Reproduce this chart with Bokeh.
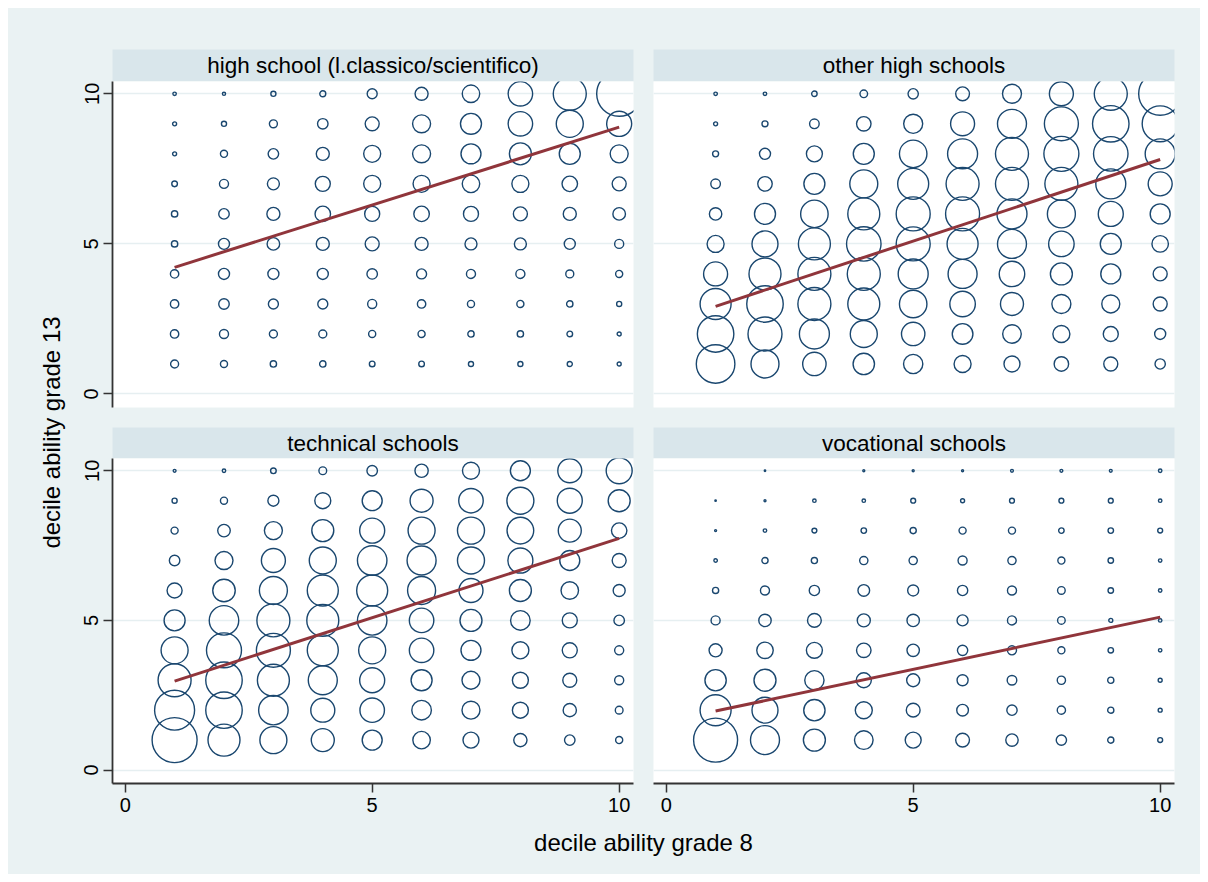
import numpy as np
from bokeh.plotting import figure
from bokeh.layouts import row, column
from bokeh.models import Range1d, FixedTicker, ColumnDataSource
from bokeh.embed import file_html
from bokeh.resources import INLINE
from bokeh.core.properties import value

# ---------------- data ----------------
panel_titles = ["high school (l.classico/scientifico)", "other high schools",
                "technical schools", "vocational schools"]
ability_grade8 = [1, 2, 3, 4, 5, 6, 7, 8, 9, 10]    # columns
ability_grade13 = [1, 2, 3, 4, 5, 6, 7, 8, 9, 10]   # rows
axis_ticks = [0, 5, 10]
x_title = "decile ability grade 8"
y_title = "decile ability grade 13"

# frequency weights (rows: grade-13 decile 1..10, columns: grade-8 decile 1..10)
w_classico = [
    [3.2, 2.5, 2.0, 2.0, 1.6, 1.6, 1.3, 1.3, 1.3, 0.8],
    [3.5, 4.1, 3.2, 3.2, 2.5, 2.5, 2.0, 2.0, 1.6, 0.8],
    [3.5, 5.5, 5.0, 5.0, 4.1, 3.5, 2.5, 2.5, 2.0, 1.3],
    [3.5, 6.1, 6.1, 6.1, 5.5, 5.0, 4.1, 4.1, 3.2, 2.5],
    [2.0, 6.1, 7.9, 8.5, 9.8, 8.5, 7.2, 7.2, 6.1, 4.1],
    [2.0, 5.5, 8.5, 12.0, 11.3, 12.0, 11.3, 9.8, 8.5, 7.9],
    [1.6, 4.1, 7.2, 11.3, 14.5, 14.5, 15.3, 14.5, 12.0, 9.8],
    [0.8, 2.5, 5.5, 8.5, 14.5, 16.2, 20.0, 24.2, 22.1, 16.2],
    [0.8, 1.3, 3.2, 5.5, 9.8, 16.2, 22.1, 30.0, 36.5, 31.3],
    [0.6, 0.5, 1.3, 1.8, 5.0, 8.5, 15.3, 30.0, 54.5, 101.3],
]
w_other_hs = [
    [74.5, 39.2, 27.4, 22.9, 18.6, 14.5, 12.8, 10.5, 9.8, 5.3],
    [66.6, 57.8, 45.0, 36.5, 27.4, 21.4, 17.3, 14.5, 11.3, 6.1],
    [48.1, 66.6, 54.5, 51.2, 37.8, 32.5, 26.5, 18.1, 16.2, 9.8],
    [28.8, 51.2, 54.5, 54.5, 45.0, 42.1, 32.5, 24.2, 20.0, 9.8],
    [14.5, 33.8, 51.2, 59.5, 57.8, 48.1, 42.1, 32.5, 22.1, 13.6],
    [7.7, 22.1, 37.8, 51.2, 57.8, 57.8, 45.0, 39.2, 31.3, 20.0],
    [4.6, 10.5, 22.1, 39.2, 48.1, 54.5, 54.5, 54.5, 45.0, 28.8],
    [1.8, 6.1, 12.8, 22.1, 37.8, 45.0, 54.5, 61.3, 59.5, 45.0],
    [0.8, 1.8, 4.6, 10.5, 18.1, 28.8, 42.1, 57.8, 66.6, 64.8],
    [0.6, 0.6, 1.5, 2.9, 5.3, 9.5, 18.1, 28.8, 54.5, 92.5],
]
w_technical = [
    [101.3, 51.2, 36.5, 26.5, 20.0, 15.3, 12.8, 8.8, 5.5, 2.5],
    [80.0, 66.6, 43.5, 28.8, 30.0, 19.2, 16.2, 12.8, 8.8, 3.0],
    [54.5, 66.6, 51.2, 42.1, 31.3, 22.1, 16.2, 12.8, 9.8, 4.1],
    [36.5, 61.3, 57.8, 48.1, 36.5, 30.0, 20.0, 14.5, 11.3, 4.1],
    [22.1, 43.5, 54.5, 51.2, 43.5, 30.0, 24.2, 19.2, 11.3, 5.5],
    [11.3, 25.3, 39.2, 48.1, 48.1, 39.2, 28.8, 24.2, 15.3, 7.2],
    [5.5, 16.2, 28.8, 36.5, 43.5, 42.1, 36.5, 31.3, 20.0, 9.8],
    [2.5, 7.9, 16.2, 24.2, 31.3, 36.5, 36.5, 35.6, 26.5, 11.9],
    [1.3, 2.5, 6.1, 12.8, 20.0, 26.5, 30.0, 36.5, 31.3, 24.2],
    [0.4, 0.6, 1.6, 3.0, 5.5, 8.8, 14.5, 20.0, 28.8, 33.8],
]
w_vocational = [
    [96.8, 42.1, 24.2, 17.3, 12.8, 9.5, 7.7, 5.3, 1.9, 1.2],
    [48.1, 33.8, 22.7, 14.5, 9.5, 6.8, 5.3, 3.4, 1.9, 0.8],
    [22.7, 24.2, 18.6, 11.3, 8.5, 6.1, 4.6, 3.4, 1.9, 0.8],
    [8.5, 13.6, 12.8, 10.5, 7.7, 5.3, 4.1, 2.5, 1.5, 0.6],
    [4.1, 7.7, 9.5, 8.5, 7.7, 6.1, 4.1, 2.9, 0.8, 0.6],
    [1.9, 4.1, 5.3, 6.8, 6.1, 5.3, 4.1, 2.9, 1.5, 0.6],
    [0.6, 1.9, 1.9, 3.4, 3.4, 4.1, 3.4, 2.5, 1.5, 0.6],
    [0.2, 0.6, 1.2, 1.5, 1.9, 2.5, 2.5, 1.5, 1.5, 1.2],
    [0.1, 0.2, 0.6, 0.6, 1.2, 0.8, 1.2, 1.2, 1.2, 0.6],
    [0.0, 0.1, 0.0, 0.2, 0.2, 0.2, 0.4, 0.4, 0.4, 0.6],
]
# fitted line values at grade-8 decile 1 and 10
fit_at_1 = [4.22, 2.92, 2.97, 1.97]
fit_at_10 = [8.89, 7.81, 7.74, 5.11]

# ---------------- style ----------------
BG = "#EAF2F3"
STRIP = "#D9E6EB"
GRID = "#E6EFF1"
NAVY = "#1A476F"
MAROON = "#90353B"
AXIS = "#333333"
FONT = "Liberation Sans"
SIZE_SCALE = 4.47   # marker diameter = SIZE_SCALE * sqrt(weight)

FRAME_W = 521
X_RANGE = (-0.257, 10.29)
Y_RANGE = (-0.45, 10.41)


def base_fig(frame_w, frame_h, bl, br, bt, bb, xr, yr, xloc=None, yloc=None, bg="white"):
    f = figure(frame_width=frame_w, frame_height=frame_h,
               x_range=Range1d(*xr), y_range=Range1d(*yr),
               x_axis_location=xloc, y_axis_location=yloc,
               toolbar_location=None, output_backend="svg",
               min_border_left=bl, min_border_right=br,
               min_border_top=bt, min_border_bottom=bb,
               background_fill_color=bg, border_fill_color=BG,
               outline_line_color=None)
    for g in f.grid:
        g.visible = False
    return f


def style_axis(ax, vertical=False):
    ax.ticker = FixedTicker(ticks=axis_ticks)
    ax.minor_tick_line_color = None
    ax.major_tick_in = 0
    ax.major_tick_out = 9
    ax.major_tick_line_color = AXIS
    ax.major_tick_line_width = 1.5
    ax.axis_line_color = AXIS
    ax.axis_line_width = 1.8
    ax.major_label_text_font = FONT
    ax.major_label_text_font_size = "20px"
    ax.major_label_text_color = "black"
    ax.major_label_standoff = 5
    if vertical:
        ax.major_label_orientation = "vertical"


def panel(weights, f1, f10, show_x, show_y, bl, br, frame_h, bb):
    p = base_fig(FRAME_W, frame_h, bl, br, 0, bb, X_RANGE, Y_RANGE,
                 xloc="below" if show_x else None, yloc="left" if show_y else None)
    for g in p.ygrid:
        g.visible = True
        g.ticker = FixedTicker(ticks=axis_ticks)
        g.grid_line_color = GRID
        g.grid_line_width = 1.5
    if show_x:
        style_axis(p.xaxis[0])
    if show_y:
        style_axis(p.yaxis[0], vertical=True)

    W = np.array(weights, dtype=float)
    gx, gy = np.meshgrid(ability_grade8, ability_grade13)
    mask = W > 0
    src = ColumnDataSource(dict(x=gx[mask], y=gy[mask], w=W[mask],
                                size=SIZE_SCALE * np.sqrt(W[mask])))
    p.scatter("x", "y", size="size", source=src, marker="circle",
              fill_color=None, line_color=NAVY, line_width=1.4)
    p.line([ability_grade8[0], ability_grade8[-1]], [f1, f10],
           line_color=MAROON, line_width=3)
    return p


def header(title, bl, br, bt, frame_h):
    h = base_fig(FRAME_W, frame_h, bl, br, bt, 0, (0, 1), (0, 1), bg=STRIP)
    h.text(x=[0.5], y=[0.5], text=[title], text_align="center", text_baseline="middle",
           text_font=value(FONT), text_font_size="22.5px", text_color="black")
    return h


# column borders (px): left column 42|521|10, right column 10|521|26
LB = (42, 10)
RB = (10, 26)

h_tl = header(panel_titles[0], *LB, 41, 32)
h_tr = header(panel_titles[1], *RB, 41, 32)
p_tl = panel(w_classico, fit_at_1[0], fit_at_10[0], False, True, *LB, 326, 10)
p_tr = panel(w_other_hs, fit_at_1[1], fit_at_10[1], False, False, *RB, 326, 10)
h_bl = header(panel_titles[2], *LB, 10, 31)
h_br = header(panel_titles[3], *RB, 10, 31)
p_bl = panel(w_technical, fit_at_1[2], fit_at_10[2], True, True, *LB, 325, 47)
p_br = panel(w_vocational, fit_at_1[3], fit_at_10[3], True, False, *RB, 325, 47)

# x-axis title strip (width 1130, height 44)
xf = base_fig(1130, 44, 0, 0, 0, 0, (0, 1130), (44, 0), bg=BG)
xf.text(x=[(42 + 42 + 521 + 10 + 10 + 521) / 2], y=[12], text=[x_title],
        text_align="center", text_baseline="middle",
        text_font=value(FONT), text_font_size="24px", text_color="black")

# y-axis title strip (width 62, height 866)
yf = base_fig(62, 866, 0, 0, 0, 0, (0, 62), (866, 0), bg=BG)
yf.text(x=[43], y=[(73 + 73 + 326 + 10 + 41 + 325) / 2], text=[y_title], angle=np.pi / 2,
        text_align="center", text_baseline="middle",
        text_font=value(FONT), text_font_size="24px", text_color="black")

bgstyle = {"background-color": BG}
grid_col = column(row(h_tl, h_tr, styles=bgstyle), row(p_tl, p_tr, styles=bgstyle),
                  row(h_bl, h_br, styles=bgstyle), row(p_bl, p_br, styles=bgstyle), xf,
                  styles=bgstyle)
layout = row(yf, grid_col, styles=bgstyle, margin=(8, 0, 0, 8))

open("out.html", "w").write(file_html(layout, INLINE))
